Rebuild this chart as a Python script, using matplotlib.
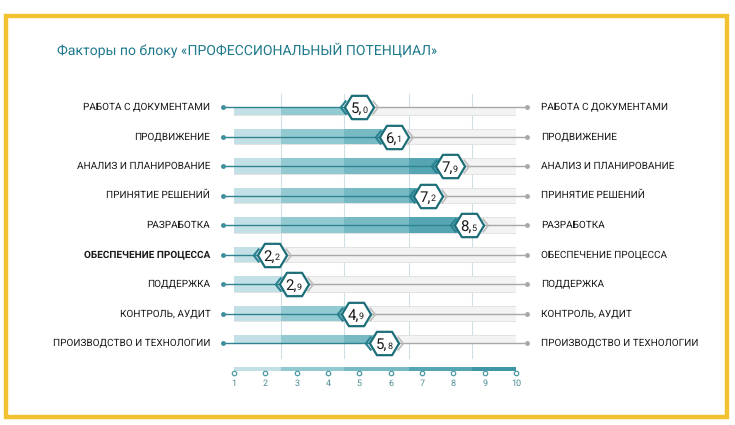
import matplotlib
matplotlib.use("Agg")
import matplotlib.pyplot as plt
from matplotlib.path import Path
from matplotlib.patches import Rectangle
import matplotlib.transforms as mtransforms
import numpy as np

plt.rcParams['font.family'] = ['Roboto', 'DejaVu Sans']
plt.rcParams['text.hinting'] = 'no_hinting'
plt.rcParams['text.hinting_factor'] = 1
label_family = ['Roboto', 'DejaVu Sans']

title = "Факторы по блоку «ПРОФЕССИОНАЛЬНЫЙ ПОТЕНЦИАЛ»"
categories = ["РАБОТА С ДОКУМЕНТАМИ", "ПРОДВИЖЕНИЕ", "АНАЛИЗ И ПЛАНИРОВАНИЕ",
              "ПРИНЯТИЕ РЕШЕНИЙ", "РАЗРАБОТКА", "ОБЕСПЕЧЕНИЕ ПРОЦЕССА",
              "ПОДДЕРЖКА", "КОНТРОЛЬ, АУДИТ", "ПРОИЗВОДСТВО И ТЕХНОЛОГИИ"]
values = [5.0, 6.1, 7.9, 7.2, 8.5, 2.2, 2.9, 4.9, 5.8]
bold_category = "ОБЕСПЕЧЕНИЕ ПРОЦЕССА"
zone_edges = [1, 2.5, 4.5, 6.6, 8.6, 10]
zone_colors = ["#c2e0e5", "#93cad2", "#78bac4", "#55a6b2", "#3f97a5"]
scale_ticks = [1, 2, 3, 4, 5, 6, 7, 8, 9, 10]

W, H = 735, 425
fig = plt.figure(figsize=(W / 100, H / 100), dpi=100)
fig.patch.set_facecolor("white")

# yellow frame
fig.patches.append(Rectangle((6 / W, 8 / H), 721 / W, 401 / H, transform=fig.transFigure,
                             fill=False, edgecolor="#f2c230", linewidth=3.2))

fig.text(57 / W, 1 - 50 / H, title, color="#1f7a8c", fontsize=10.3,
         va="center", ha="left")

# main axes: x=1 -> 234px, x=10 -> 516px ; row0 -> 107px, row8 -> 343px
x0, x1 = 234, 516
y0, y1 = 107, 343
ax = fig.add_axes([x0 / W, 1 - y1 / H, (x1 - x0) / W, (y1 - y0) / H])
ax.set_xlim(1, 10)
ax.set_ylim(len(categories) - 1, 0)
ax.axis("off")

bar_h = 0.51
px = 9.0 / (x1 - x0)  # data units per pixel
ext = 11 * px

# vertical grid at zone boundaries
for e in zone_edges[1:-1]:
    ax.plot([e, e], [-0.45, len(categories) - 1 + 0.5], color="#cfe0e4", lw=0.8,
            zorder=0.5, clip_on=False)

hex_path = Path([(-1, 0), (-0.52, 0.8), (0.52, 0.8), (1, 0), (0.52, -0.8),
                 (-0.52, -0.8), (-1, 0)], closed=True)
chev_l = Path([(0.4, 1), (-0.4, 0), (0.4, -1)])
chev_r = Path([(-0.4, 1), (0.4, 0), (-0.4, -1)])

off_l = mtransforms.offset_copy(ax.transData, fig=fig, x=-16, y=0, units='dots')
off_r = mtransforms.offset_copy(ax.transData, fig=fig, x=16, y=0, units='dots')

for i, (cat, v) in enumerate(zip(categories, values)):
    # background bar
    ax.barh(i, 9, left=1, height=bar_h, color="#f3f3f3", edgecolor="#e0e0e0",
            linewidth=0.6, zorder=1)
    # zone fills up to value
    for (a, b), c in zip(zip(zone_edges[:-1], zone_edges[1:]), zone_colors):
        if v > a:
            ax.barh(i, min(v, b) - a, left=a, height=bar_h, color=c, linewidth=0,
                    zorder=2)
    # lines
    ax.plot([1 - ext, v], [i, i], color="#2f8390", lw=1.0, zorder=3, clip_on=False)
    ax.plot([v, 10 + ext], [i, i], color="#a8a8a8", lw=1.0, zorder=3, clip_on=False)
    ax.plot([1 - ext], [i], "o", ms=2.5, color="#3f8f9b", zorder=3, clip_on=False)
    ax.plot([10 + ext], [i], "o", ms=2.5, color="#a8a8a8", zorder=3, clip_on=False)
    # chevrons
    ax.plot([v], [i], marker=chev_l, ms=10, mfc="none", mec="#2a8290", mew=1.5,
            transform=off_l, zorder=4, clip_on=False)
    ax.plot([v], [i], marker=chev_r, ms=10, mfc="none", mec="#bdbdbd", mew=1.2,
            transform=off_r, zorder=4, clip_on=False)
    # hexagon
    ax.plot([v], [i], marker=hex_path, ms=21, mfc="white", mec="#1c6e78", mew=1.6,
            zorder=5, clip_on=False)
    whole, frac = f"{v:.1f}".split(".")
    ax.annotate(whole + ",", (v, i), xytext=(2, -4.3), textcoords="offset points",
                ha="right", va="baseline", fontsize=11, color="#1a1a1a", zorder=6)
    ax.annotate(frac, (v, i), xytext=(2.0, -4.3), textcoords="offset points",
                ha="left", va="baseline", fontsize=6.3, color="#1a1a1a", zorder=6)
    # labels
    fw = "bold" if cat == bold_category else "normal"
    ax.annotate(cat, (1, i), xytext=(-17, 0), textcoords="offset points",
                ha="right", va="center", fontsize=7.0, color="#1a1a1a",
                fontweight=fw, family=label_family, annotation_clip=False)
    ax.annotate(cat, (10, i), xytext=(18, 0), textcoords="offset points",
                ha="left", va="center", fontsize=7.0, color="#1a1a1a",
                fontweight="normal", family=label_family, annotation_clip=False)

# bottom scale
sy0, sy1 = 367, 371
ax2 = fig.add_axes([x0 / W, 1 - sy1 / H, (x1 - x0) / W, (sy1 - sy0) / H])
ax2.set_xlim(1, 10)
ax2.set_ylim(0, 1)
for (a, b), c in zip(zip(zone_edges[:-1], zone_edges[1:]), zone_colors):
    ax2.barh(0.5, b - a, left=a, height=1, color=c, linewidth=0)
for s in ax2.spines.values():
    s.set_visible(False)
ax2.set_yticks([])
ax2.set_xticks(scale_ticks)
ax2.set_xticklabels([str(t) for t in scale_ticks])
ax2.tick_params(axis="x", length=0, pad=6, labelsize=6.5, labelcolor="#4d8c97")
ax2.plot(scale_ticks, [-0.6] * len(scale_ticks), "o", ms=3.2, mfc="white",
         mec="#4d9aa5", mew=0.9, clip_on=False, zorder=5)

fig.savefig("out.png", dpi=100, facecolor="white")
